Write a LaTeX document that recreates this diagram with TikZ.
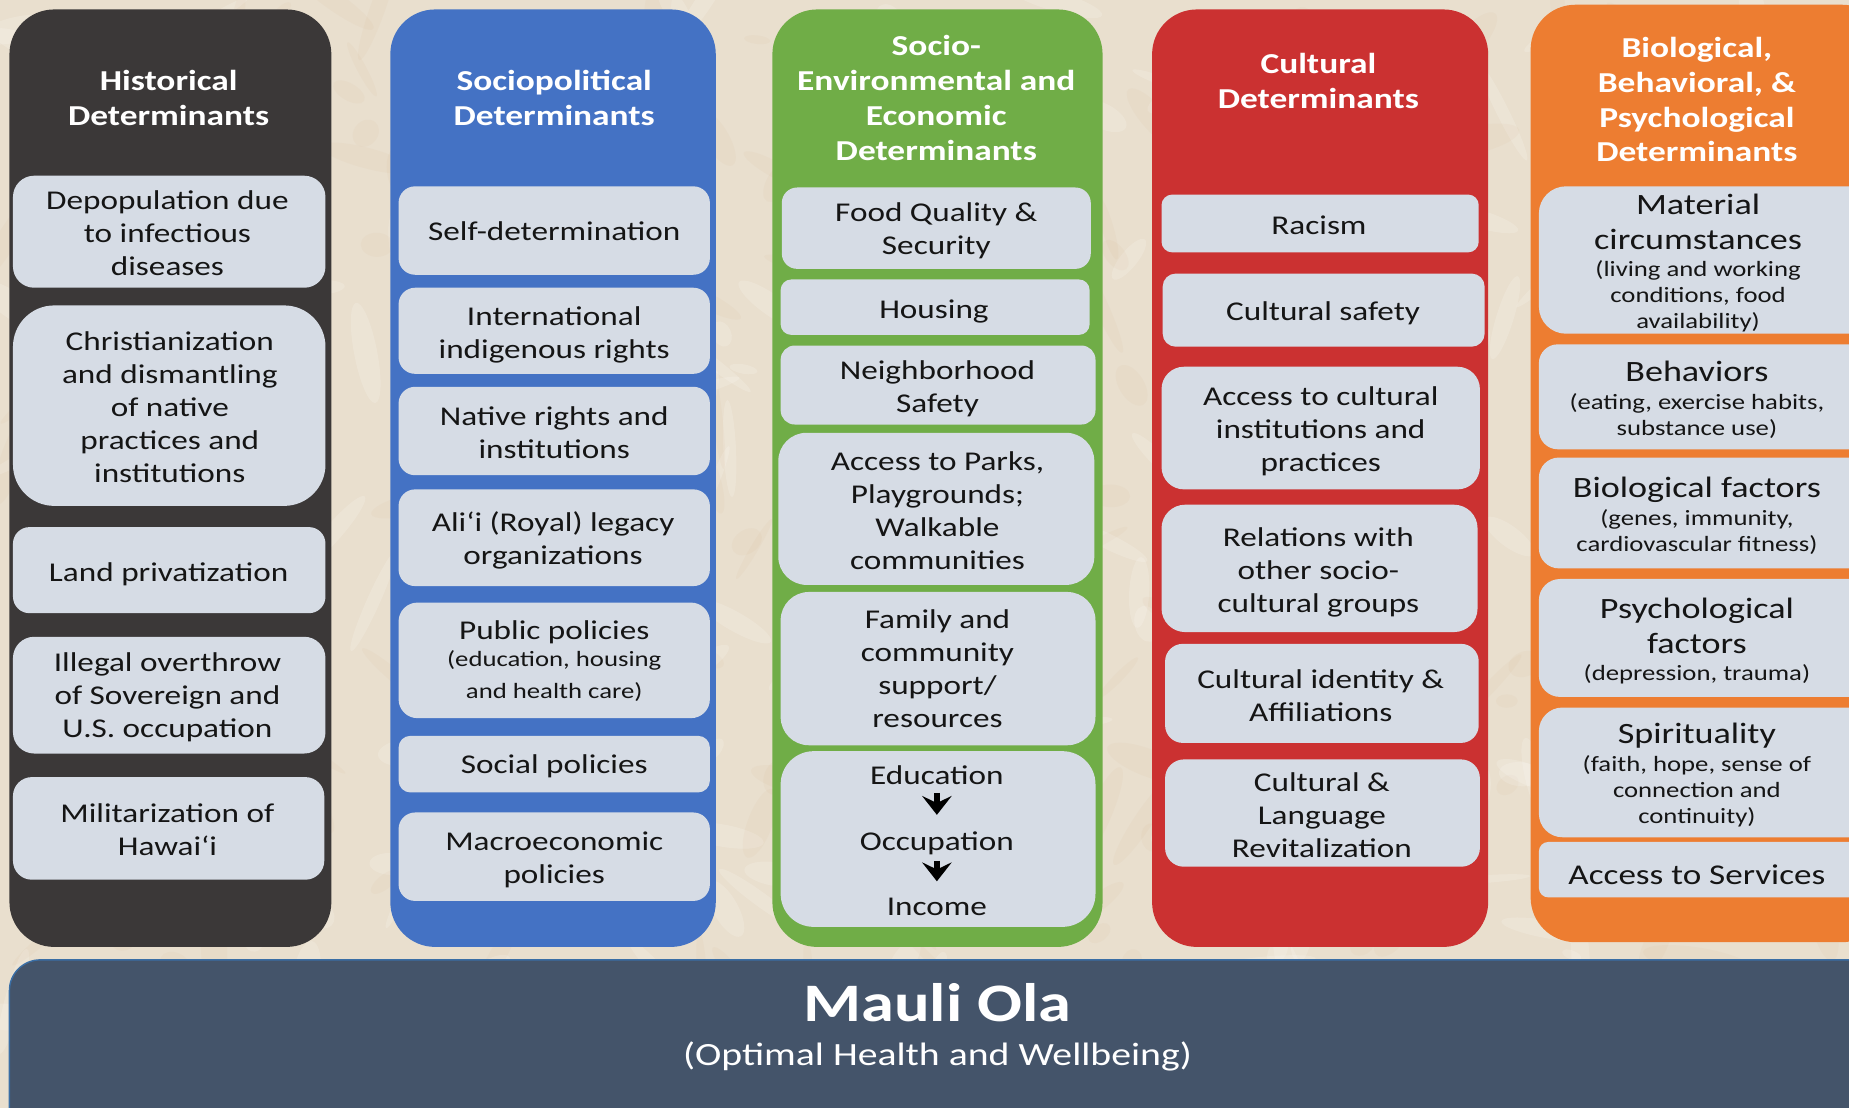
\documentclass[tikz,border=0pt]{standalone}
\usepackage{fontspec}
\setmainfont{Carlito}[FakeStretch=1.225]
\usetikzlibrary{arrows.meta}
\definecolor{bgbase}{HTML}{E9DFCE}
\definecolor{colA}{HTML}{3B3838}
\definecolor{colB}{HTML}{4472C4}
\definecolor{colC}{HTML}{70AD47}
\definecolor{colD}{HTML}{CB3131}
\definecolor{colE}{HTML}{ED7D31}
\definecolor{boxfill}{HTML}{D6DCE5}
\definecolor{bandfill}{HTML}{44546A}
\definecolor{bandedge}{HTML}{3A6EA5}
\definecolor{inktext}{HTML}{151515}
\tikzset{
  x=1pt,y=-1pt,
  shapebase/.style={inner sep=0pt,outer sep=0pt,rectangle},
  colshape/.style={shapebase},
  boxshape/.style={shapebase,fill=boxfill},
  headtext/.style={align=center,text=white,inner sep=0pt,font=\fontsize{24.5}{29.5}\selectfont\bfseries},
  bodytext/.style={align=center,text=inktext,inner sep=0pt,font=\fontsize{23}{28}\selectfont},
  bigtext/.style={align=center,text=inktext,inner sep=0pt,font=\fontsize{25}{30}\selectfont},
  smalltext/.style={align=center,text=inktext,inner sep=0pt,font=\fontsize{18.5}{22}\selectfont},
  downarrow/.style={line width=5.5pt,draw=black,-{Stealth[length=16pt,width=25pt,inset=6pt]}}
}
% name, x1,y1,x2,y2, radius, options
\newcommand{\rbox}[7]{%
  \pgfmathsetmacro{\rbw}{#4-#2}\pgfmathsetmacro{\rbh}{#5-#3}%
  \pgfmathsetmacro{\rbx}{(#2+#4)/2}\pgfmathsetmacro{\rby}{(#3+#5)/2}%
  \node[#7,minimum width=\rbw pt,minimum height=\rbh pt,rounded corners=#6pt] (#1) at (\rbx,\rby) {};}
\begin{document}
\begin{tikzpicture}
\clip (0,0) rectangle (1568,939.6);
\fill[bgbase] (0,0) rectangle (1568,939.6);
% mottled paper texture
\pgfmathsetseed{4711}
\foreach \i in {1,...,520}{
  \pgfmathsetmacro{\px}{rnd*1568}\pgfmathsetmacro{\py}{rnd*940}
  \pgfmathsetmacro{\pa}{8+rnd*40}\pgfmathsetmacro{\pb}{3+rnd*9}\pgfmathsetmacro{\pr}{rnd*180}
  \pgfmathsetmacro{\pk}{rnd}
  \ifdim\pk pt<0.55pt
    \fill[white,opacity=.16,rotate around={\pr:(\px,\py)}] (\px,\py) ellipse ({\pa} and {\pb});
  \else
    \fill[brown!55!bgbase,opacity=.07,rotate around={\pr:(\px,\py)}] (\px,\py) ellipse ({\pa} and {\pb});
  \fi
}
% columns
\rbox{colhist}{8}{8}{281}{803}{38}{colshape,fill=colA}
\rbox{colsoc}{331}{8}{607}{803}{38}{colshape,fill=colB}
\rbox{colenv}{655}{8}{935}{803}{38}{colshape,fill=colC}
\rbox{colcult}{977}{8}{1262}{803}{38}{colshape,fill=colD}
\rbox{colbio}{1298}{4}{1600}{799}{38}{colshape,fill=colE}
% band
\rbox{band}{8}{814}{1620}{990}{26}{shapebase,fill=bandfill,draw=bandedge,line width=1.2pt}
\node[align=center,text=white,inner sep=0pt,font=\fontsize{46}{50}\selectfont\bfseries] (mauli) at (795,850) {Mauli Ola};
\node[align=center,text=white,inner sep=0pt,font=\fontsize{27.5}{32}\selectfont] (optimal) at (795,895.5) {(Optimal Health and Wellbeing)};
% headers
\node[headtext] (hhist) at (143,83) {Historical\\Determinants};
\node[headtext] (hsoc) at (470,83) {Sociopolitical\\Determinants};
\node[headtext] (henv) at (794,83) {Socio-\\Environmental and\\Economic\\Determinants};
\node[headtext] (hcult) at (1118,68.5) {Cultural\\Determinants};
\node[headtext] (hbio) at (1439,84.5) {Biological,\\Behavioral, \&\\Psychological\\Determinants};
% historical
\rbox{a1}{11}{149}{276}{244}{18}{boxshape}
\rbox{a2}{11}{259}{276}{429}{35}{boxshape}
\rbox{a3}{11}{447}{276}{520}{14}{boxshape}
\rbox{a4}{11}{540}{276}{639}{18}{boxshape}
\rbox{a5}{11}{659}{275}{746}{16}{boxshape}
\node[bodytext] (ta1) at (142,198) {Depopulation due\\to infectious\\diseases};
\node[bodytext] (ta2) at (144,345) {Christianization\\and dismantling\\of native\\practices and\\institutions};
\node[bodytext] (ta3) at (143,487) {Land privatization};
\node[bodytext] (ta4) at (142,591) {Illegal overthrow\\of Sovereign and\\U.S. occupation};
\node[bodytext] (ta5) at (142,703.5) {Militarization of\\Hawai‘i};
% sociopolitical
\rbox{b1}{338}{158}{602}{233}{14}{boxshape}
\rbox{b2}{338}{244}{602}{317}{14}{boxshape}
\rbox{b3}{338}{328}{602}{403}{14}{boxshape}
\rbox{b4}{338}{415}{602}{497}{14}{boxshape}
\rbox{b5}{338}{511}{602}{609}{16}{boxshape}
\rbox{b6}{338}{624}{602}{672}{10}{boxshape}
\rbox{b7}{338}{689}{602}{764}{14}{boxshape}
\node[bodytext] (tb1) at (470,196) {Self-determination};
\node[bodytext] (tb2) at (470,284) {International\\indigenous rights};
\node[bodytext] (tb3) at (470,367) {Native rights and\\institutions};
\node[bodytext] (tb4) at (469,458.5) {Ali‘i (Royal) legacy\\organizations};
\node[bodytext] (tb5) at (470,536.5) {Public policies};
\node[smalltext,font=\fontsize{18.5}{27}\selectfont] (tb5s) at (470,573) {(education, housing\\and health care)};
\node[bodytext] (tb6) at (470,650) {Social policies};
\node[bodytext] (tb7) at (470,729.5) {Macroeconomic\\policies};
% socio-environmental
\rbox{c1}{663}{159}{925}{228}{13}{boxshape}
\rbox{c2}{662}{237}{924}{284}{9}{boxshape}
\rbox{c3}{662}{293}{929}{360}{12}{boxshape}
\rbox{c4}{660}{367}{928}{496}{24}{boxshape}
\rbox{c5}{662}{502}{929}{632}{24}{boxshape}
\rbox{c6}{662}{637}{929}{786}{28}{boxshape}
\node[bodytext] (tc1) at (794,196) {Food Quality \&\\Security};
\node[bodytext] (tc2) at (792,264) {Housing};
\node[bodytext] (tc3) at (795,330) {Neighborhood\\Safety};
\node[bodytext] (tc4) at (795,433) {Access to Parks,\\Playgrounds;\\Walkable\\communities};
\node[bodytext] (tc5) at (795,567) {Family and\\community\\support/\\resources};
\node[bodytext] (edu) at (794.5,657) {Education};
\node[bodytext] (occ) at (794.5,715) {Occupation};
\node[bodytext] (inc) at (794.5,769) {Income};
\draw[downarrow,shorten <=7pt,shorten >=14pt] (edu.south) -- (occ.north);
\draw[downarrow,shorten <=5pt,shorten >=14pt] (occ.south) -- (inc.north);
% cultural
\rbox{d1}{985}{165}{1254}{214}{9}{boxshape}
\rbox{d2}{986}{232}{1259}{294}{11}{boxshape}
\rbox{d3}{985}{311}{1255}{415}{19}{boxshape}
\rbox{d4}{985}{428}{1253}{536}{20}{boxshape}
\rbox{d5}{988}{546}{1254}{630}{15}{boxshape}
\rbox{d6}{988}{644}{1255}{735}{16}{boxshape}
\node[bodytext] (td1) at (1118.5,191) {Racism};
\node[bodytext] (td2) at (1122,266) {Cultural safety};
\node[bodytext] (td3) at (1120,366) {Access to cultural\\institutions and\\practices};
\node[bodytext] (td4) at (1118,485.5) {Relations with\\other socio-\\cultural groups};
\node[bodytext] (td5) at (1120,590) {Cultural identity \&\\Affiliations};
\node[bodytext] (td6) at (1121,691) {Cultural \&\\Language\\Revitalization};
% biological
\rbox{e1}{1305}{158}{1610}{283}{23}{boxshape}
\rbox{e2}{1305}{292}{1610}{381}{16}{boxshape}
\rbox{e3}{1305}{388}{1610}{482}{17}{boxshape}
\rbox{e4}{1305}{491}{1610}{591}{18}{boxshape}
\rbox{e5}{1305}{600}{1610}{710}{20}{boxshape}
\rbox{e6}{1305}{714}{1610}{761}{8}{boxshape}
\node[bigtext] (te1) at (1440,188) {Material\\circumstances};
\node[smalltext] (te1s) at (1440,251) {(living and working\\conditions, food\\availability)};
\node[bigtext] (te2) at (1439,315) {Behaviors};
\node[smalltext] (te2s) at (1439,353) {(eating, exercise habits,\\substance use)};
\node[bigtext] (te3) at (1439,415) {Biological factors};
\node[smalltext] (te3s) at (1439,451) {(genes, immunity,\\cardiovascular fitness)};
\node[bigtext] (te4) at (1439,531) {Psychological\\factors};
\node[smalltext] (te4s) at (1439,572) {(depression, trauma)};
\node[bigtext] (te5) at (1439,624) {Spirituality};
\node[smalltext] (te5s) at (1439,671) {(faith, hope, sense of\\connection and\\continuity)};
\node[bodytext,font=\fontsize{24.3}{28}\selectfont] (te6) at (1439,742) {Access to Services};
\end{tikzpicture}
\end{document}
